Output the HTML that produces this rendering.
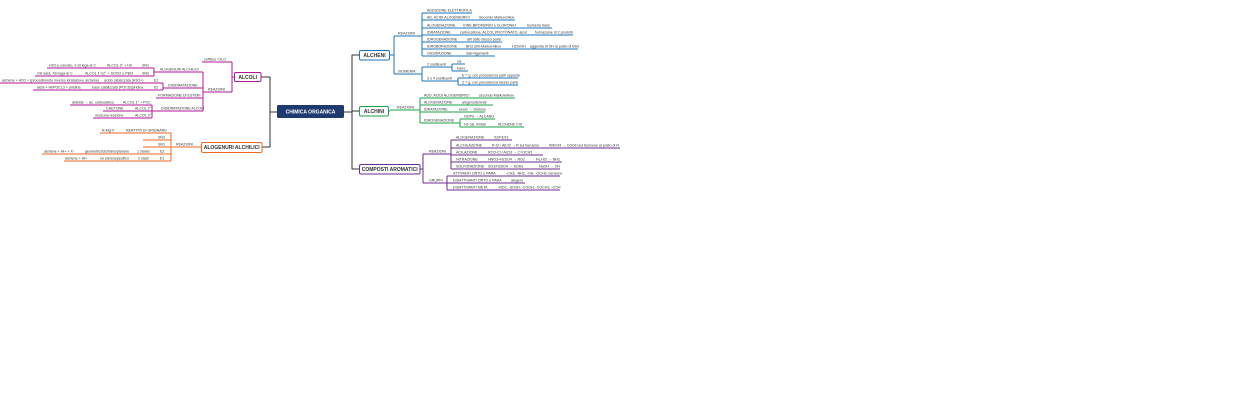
<!DOCTYPE html>
<html><head><meta charset="utf-8"><style>
html,body{margin:0;padding:0;background:#fff;width:1240px;height:400px;overflow:hidden}
svg{display:block}
text{font-family:"Liberation Sans",sans-serif;font-size:3.6px;fill:#333}
.b{font-size:5px;font-weight:bold}
</style></head><body>
<svg width="1240" height="400" viewBox="0 0 1240 400" xmlns="http://www.w3.org/2000/svg">
<g fill="none" stroke-width="1">
<!-- trunks -->
<path d="M277 112 H270 V77 H261 M270 112 V147 H262" stroke="#333"/>
<path d="M344 112 H352 V55 H359 M352 111 H359 M352 112 V169 H359" stroke="#333"/>
<!-- ALCOLI magenta -->
<g stroke="#b0179a">
<path d="M234 77 H232 M232 62 V92"/>
<path d="M202 62 H232 M205 92 H232"/>
<path d="M205 92 H203 M203 72 V111"/>
<path d="M158 72 H203 M163 88 H203 M156 98 H203 M159 111 H203"/>
<path d="M158 72 H154 M154 68 V76 M47 68 H154 M35 76 H154"/>
<path d="M163 88 V83 M163 88 V90 M0 83 H163 M33 90 H163"/>
<path d="M159 111 H152 M152 105 V118 M70 105 H152 M103 111 H152 M93 118 H152"/>
</g>
<!-- ALOGENURI orange -->
<g stroke="#f26522">
<path d="M201 147 H172 M171 133 V161"/>
<path d="M100 133 H171 M143 140 H171 M143 147 H171 M42 154 H171 M64 161 H171"/>
</g>
<!-- ALCHENI blue -->
<g stroke="#1b75bb">
<path d="M389 55 H394 M394 36 V74 M394 36 H422 M394 74 H422"/>
<path d="M422 13 V56 M422 13 H472 M422 20 H515 M422 28 H552 M422 35 H573 M422 42 H502 M422 49 H578 M422 56 H495"/>
<path d="M422 67 V81 M422 67 H450 M422 81 H457"/>
<path d="M450 67 H452 M452 64 V71 M452 64 H465 M452 71 H468"/>
<path d="M457 81 H458 M458 78 V85 M458 78 H518 M458 85 H518"/>
</g>
<!-- ALCHINI green -->
<g stroke="#1aa34a">
<path d="M388 111 H390 M390 110 H418 M420 98 V123"/>
<path d="M418 110 H420 M420 98 H515 M420 105 H493 M420 112 H485 M420 123 H458"/>
<path d="M458 123 H460 M460 119 V127 M460 119 H495 M460 127 H524"/>
</g>
<!-- AROMATICI purple -->
<g stroke="#6a2c91">
<path d="M420 169 H423 M423 154 V183 M423 154 H450 M423 183 H447"/>
<path d="M450 154 H451 M451 140 V169 M451 140 H512 M451 148 H620 M451 155 H543 M451 162 H562 M451 169 H560"/>
<path d="M447 176 V190 M447 176 H560 M447 183 H525 M447 190 H560"/>
</g>
</g>
<!-- boxes -->
<rect x="277" y="105" width="67" height="13" rx="1.5" fill="#1e3a6e"/>
<text x="310.5" y="113.5" text-anchor="middle" class="b" style="fill:#fff">CHIMICA ORGANICA</text>
<rect x="234.5" y="72.5" width="26.5" height="9" rx="1.5" fill="#fff" stroke="#b0179a"/>
<text x="247.7" y="78.8" text-anchor="middle" class="b">ALCOLI</text>
<rect x="201.5" y="142.5" width="60.5" height="10" rx="1.5" fill="#fff" stroke="#f26522"/>
<text x="231.7" y="149.2" text-anchor="middle" class="b">ALOGENURI ALCHILICI</text>
<rect x="359.5" y="50.5" width="30" height="9.5" rx="1.5" fill="#fff" stroke="#1b75bb"/>
<text x="374.5" y="57" text-anchor="middle" class="b">ALCHENI</text>
<rect x="359.5" y="106.5" width="29" height="9.5" rx="1.5" fill="#fff" stroke="#1aa34a"/>
<text x="374" y="113" text-anchor="middle" class="b">ALCHINI</text>
<rect x="359.5" y="164.5" width="60.5" height="9.5" rx="1.5" fill="#fff" stroke="#6a2c91"/>
<text x="389.7" y="171" text-anchor="middle" class="b">COMPOSTI AROMATICI</text>
<!-- ALCOLI texts -->
<text x="204" y="60.5">suffisso -OLO</text>
<text x="208" y="90.5">REAZIONI</text>
<text x="160" y="70.5">ALOGENURI ALCHILICI</text>
<text x="168" y="86.5">DISIDRATAZIONE</text>
<text x="158" y="96.5">FORMAZIONE DI ESTERI</text>
<text x="161" y="109.5">DISIDRATAZIONE ALCOLI</text>
<text x="49" y="66.5">H2O p.usurato, 3 sil lega al C</text>
<text x="107" y="66.5">ALCOL 3° + HX</text>
<text x="142" y="66.5">SN1</text>
<text x="37" y="74.5">OH sarà, Xsi lega al C</text>
<text x="85" y="74.5">ALCOL 1°o2° + SOCl2 o PBr3</text>
<text x="142" y="74.5">SN2</text>
<text x="2" y="81.5">alchene + H2O + (procedimento inverso idratazione alchene)</text>
<text x="104" y="81.5">acido catalizzata (H3O+)</text>
<text x="154" y="81.5">E1</text>
<text x="37" y="88.5">alchi + H0POCL3 + piridina</text>
<text x="92" y="88.5">base catalizzata (POCl3)piridina</text>
<text x="154" y="88.5">E2</text>
<text x="72" y="103.5">aldeide → ac. carbossilico</text>
<text x="123" y="103.5">ALCOL 1° + PCC</text>
<text x="106" y="109.5">CHETONE</text>
<text x="135" y="109.5">ALCOL 2°</text>
<text x="95" y="116.5">nessuna reazione</text>
<text x="135" y="116.5">ALCOL 3°</text>
<!-- ALOGENURI texts -->
<text x="176" y="145.5">REAZIONI</text>
<text x="102" y="131.5">R-Mg-X</text>
<text x="126" y="131.5">REATTIVI DI GRIGNARD</text>
<text x="158" y="138.5">SN2</text>
<text x="158" y="145.5">SN1</text>
<text x="44" y="152.5">alchene + IH+ + X-</text>
<text x="85" y="152.5">geometrici/cis/trans/pianaro</text>
<text x="137" y="152.5">1 stadio</text>
<text x="160" y="152.5">E2</text>
<text x="65" y="159.5">alchene + IH+</text>
<text x="100" y="159.5">no stereospecifico</text>
<text x="138" y="159.5">2 stadi</text>
<text x="160" y="159.5">E1</text>
<!-- ALCHENI texts -->
<text x="398" y="34.5">REAZIONI</text>
<text x="398" y="72.5">ISOMERIA</text>
<text x="427" y="11.5">ADDIZIONE ELETTROFILA</text>
<text x="427" y="18.5">AD. ACIDI ALOGENIDRICI</text>
<text x="479" y="18.5">Secondo Markovnikov</text>
<text x="427" y="26.5">ALOGENAZIONE</text>
<text x="463" y="26.5">IONE BROMONIO o CLORONIO</text>
<text x="527" y="26.5">Isomeria trans</text>
<text x="427" y="33.5">IDRATAZIONE</text>
<text x="460" y="33.5">carbocatione, ALCOL PROTONATO, alcol</text>
<text x="535" y="33.5">formazione di 2 prodotti</text>
<text x="427" y="40.5">IDROGENAZIONE</text>
<text x="467" y="40.5">atti dallo stesso parte</text>
<text x="427" y="47.5">IDROBORAZIONE</text>
<text x="466" y="47.5">BH3 anti-Markovnikov</text>
<text x="512" y="47.5">H2O/OH</text>
<text x="530" y="47.5">aggiunta di OH al posto di BH2</text>
<text x="427" y="54.5">OSSIDAZIONE</text>
<text x="466" y="54.5">Sali+ligamanti</text>
<text x="427" y="65.5">2 sostituenti</text>
<text x="457" y="62.5">cis</text>
<text x="457" y="69.5">trans</text>
<text x="427" y="79.5">3 o 4 sostituenti</text>
<text x="462" y="76.5">E = g. con precedenza parti opposte</text>
<text x="462" y="83.5">Z = g. con precedenza stesso parte</text>
<!-- ALCHINI texts -->
<text x="397" y="108.5">REAZIONI</text>
<text x="424" y="96.5">ADD. ACIDI ALOGENIDRICI</text>
<text x="479" y="96.5">secondo Markovnikov</text>
<text x="424" y="103.5">ALOGENAZIONE</text>
<text x="462" y="103.5">alogenoderivati</text>
<text x="424" y="110.5">IDRATAZIONE</text>
<text x="459" y="110.5">enolo → chetone</text>
<text x="424" y="121.5">IDROGENAZIONE</text>
<text x="464" y="117.5">H2/Pd → ALCANO</text>
<text x="464" y="125.5">H2 cat. lindlar</text>
<text x="498" y="125.5">ALCHENE CIS</text>
<!-- AROMATICI texts -->
<text x="429" y="152.5">REAZIONI</text>
<text x="429" y="181.5">GRUPPI</text>
<text x="456" y="138.5">ALOGENAZIONE</text>
<text x="494" y="138.5">X2/FEX3</text>
<text x="456" y="146.5">ALCHILAZIONE</text>
<text x="492" y="146.5">R-Cl / AlCl3 → R sul benzene</text>
<text x="549" y="146.5">KMnO4 → COOH sul benzene al posto di R</text>
<text x="456" y="153.5">ACILAZIONE</text>
<text x="488" y="153.5">RCO-Cl / AlCl3 → C=OCH3</text>
<text x="456" y="160.5">NITRAZIONE</text>
<text x="488" y="160.5">HNO3+H2SO4 → NO2</text>
<text x="536" y="160.5">Fe,HCl → NH2</text>
<text x="456" y="167.5">SOLFONAZIONE</text>
<text x="488" y="167.5">SO3/H2SO4 → SOH3</text>
<text x="539" y="167.5">NaOH → OH</text>
<text x="453" y="174.5">ATTIVANTI ORTO e PARA</text>
<text x="506" y="174.5">-CH3, -NH2, -OH, -OCH3, benzene</text>
<text x="453" y="181.5">DISATTIVANTI ORTO e PARA</text>
<text x="511" y="181.5">alogeni</text>
<text x="453" y="188.5">DISATTIVANTI META</text>
<text x="498" y="188.5">-NO2, -SO3H, -COOH, -COCH3, -COH</text>
</svg>
</body></html>
